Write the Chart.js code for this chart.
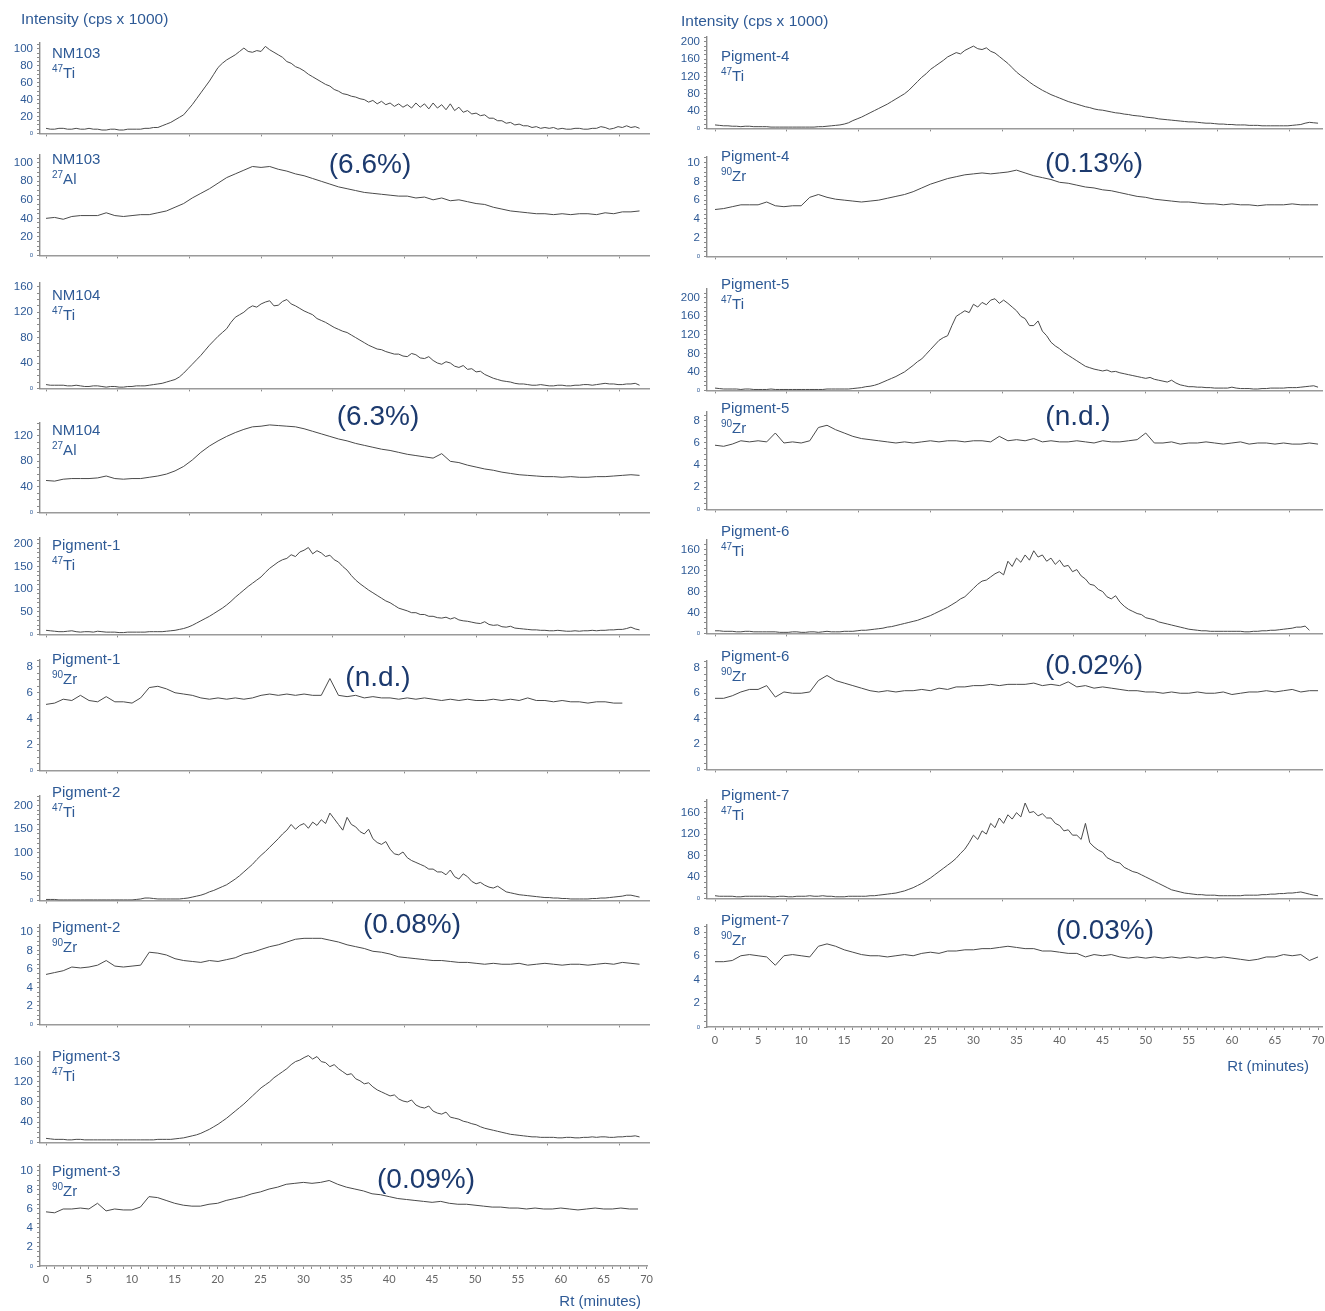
<!DOCTYPE html>
<html>
<head>
<meta charset="utf-8">
<title>Single-particle ICP-MS fractograms</title>
<script src="https://cdn.jsdelivr.net/npm/chart.js@4/dist/chart.umd.min.js"></script>
<style>
  html, body { margin: 0; padding: 0; background: #ffffff; overflow: hidden; }
  #stage { position: relative; width: 1325px; height: 1311px; }
  #stage canvas { position: absolute; }
</style>
</head>
<body>
<div id="stage"></div>
<script>
// ---- Retention time grids (minutes) ----
const TIME = [0,1,2,3,4,5,6,7,8,9,10,11,12,13,14,15,16,17,18,19,20,21,22,23,24,25,26,27,28,29,30,31,32,33,34,35,36,37,38,39,40,41,42,43,44,45,46,47,48,49,50,51,52,53,54,55,56,57,58,59,60,61,62,63,64,65,66,67,68,69,70];
const TIME_HALF = [0,0.5,1,1.5,2,2.5,3,3.5,4,4.5,5,5.5,6,6.5,7,7.5,8,8.5,9,9.5,
  10,10.5,11,11.5,12,12.5,13,13.5,14,14.5,15,15.5,16,16.5,17,17.5,18,18.5,19,19.5,
  20,20.5,21,21.5,22,22.5,23,23.5,24,24.5,25,25.5,26,26.5,27,27.5,28,28.5,29,29.5,
  30,30.5,31,31.5,32,32.5,33,33.5,34,34.5,35,35.5,36,36.5,37,37.5,38,38.5,39,39.5,
  40,40.5,41,41.5,42,42.5,43,43.5,44,44.5,45,45.5,46,46.5,47,47.5,48,48.5,49,49.5,
  50,50.5,51,51.5,52,52.5,53,53.5,54,54.5,55,55.5,56,56.5,57,57.5,58,58.5,59,59.5,
  60,60.5,61,61.5,62,62.5,63,63.5,64,64.5,65,65.5,66,66.5,67,67.5,68,68.5,69,69.5,70];

// ---- 47Ti intensities (cps x 1000), every half minute ----
const NM103_TI = [6,5,5,6,6,5,5,6,5,5, 6,5,5,4,4,5,5,4,4,5,
  5,5,5,6,6,7,7,9,11,13, 16,19,22,28,34,41,48,55,62,70,
  78,83,87,90,93,97,101,97,96,98, 97,103,99,96,93,90,85,83,79,77,
  74,70,67,64,61,58,56,52,50,47, 46,44,43,41,40,37,39,35,38,34,
  36,32,35,31,34,30,36,31,35,29, 36,30,34,28,35,27,31,25,27,23,
  24,21,22,18,18,15,15,12,13,10, 11,9,9,7,8,6,7,6,7,5,
  6,5,5,6,6,5,5,6,6,8, 7,5,6,8,7,9,7,8,6];
const NM104_TI = [6,5,5,5,5,4,4,5,4,3, 3,4,4,3,2,3,3,2,2,3,
  3,4,4,4,5,6,7,8,10,12, 14,18,24,31,38,45,52,60,68,75,
  82,88,94,104,112,116,120,126,130,128, 133,136,138,130,131,137,140,133,130,126,
  122,119,116,110,107,104,100,96,93,90, 88,84,80,76,72,68,65,62,61,58,
  56,54,54,51,50,55,53,48,47,50, 44,40,38,42,40,35,33,36,30,31,
  26,27,22,19,16,14,12,11,10,8, 7,7,6,5,5,6,5,4,4,5,
  5,4,4,5,5,6,6,5,6,7, 8,7,7,6,6,7,7,8,5];
const P1_TI = [9,8,7,6,6,7,8,6,5,6, 6,5,7,6,5,5,5,4,4,5,
  5,5,5,5,6,6,6,6,7,8, 9,11,13,16,20,25,30,35,40,46,
  52,58,65,73,82,90,98,106,113,120, 127,137,146,153,160,165,168,176,172,182,
  186,192,178,185,180,172,175,165,160,150, 142,130,120,112,105,98,92,86,80,74,
  70,64,58,55,52,48,48,44,44,40, 40,37,36,38,34,37,32,30,29,27,
  25,24,28,22,20,21,17,16,18,14, 13,12,11,10,10,9,9,8,8,9,
  8,7,7,8,7,8,8,9,8,9, 9,10,10,11,11,13,16,12,10];
const P2_TI = [2,2,2,1,1,1,1,1,1,1, 1,1,1,1,1,1,1,1,1,1,
  1,2,3,5,5,4,3,3,3,3, 3,3,4,5,7,9,11,14,18,21,
  25,29,33,39,45,52,60,68,76,86, 95,103,112,121,130,140,148,160,150,158,
  162,152,165,158,170,162,184,172,160,148, 175,160,155,145,140,150,130,122,118,124,
  108,98,96,102,90,84,80,76,72,66, 66,60,60,54,64,50,45,56,50,40,
  35,38,32,28,26,30,24,18,16,14, 12,11,10,9,8,7,6,6,5,5,
  4,4,3,3,3,3,3,4,4,5, 5,6,7,8,9,11,11,9,7];
const P3_TI = [8,7,6,6,6,5,5,6,6,5, 5,5,5,5,5,5,5,5,5,5,
  5,5,5,5,5,5,6,6,6,6, 7,8,9,11,13,15,18,22,26,31,
  36,42,48,55,62,69,76,84,92,100, 108,114,120,128,134,140,146,154,160,163,
  168,172,165,170,160,158,150,154,146,140, 134,136,126,122,116,118,110,104,100,96,
  92,94,86,82,80,84,74,70,68,72, 62,58,56,60,50,48,46,42,40,37,
  35,31,28,26,24,22,20,18,16,15, 14,13,12,11,11,10,10,10,10,9,
  9,10,10,9,9,10,10,11,10,11, 11,10,10,11,11,12,12,13,11];
const P4_TI = [8,7,6,6,5,5,4,5,5,4, 4,4,4,3,3,3,3,3,3,3,
  3,3,3,3,4,4,5,6,7,8, 10,13,18,22,26,31,36,41,46,51,
  56,62,68,74,80,88,98,108,118,126, 136,143,150,157,165,170,175,172,180,185,
  190,184,182,186,178,174,166,158,150,140, 130,122,115,107,100,94,88,83,78,74,
  70,66,62,59,56,53,50,48,45,43, 42,40,38,36,35,33,32,30,29,28,
  26,25,24,22,21,20,19,18,17,16, 15,15,14,13,12,12,11,10,10,9,
  9,8,8,8,7,7,7,6,6,6, 6,6,6,6,7,8,9,12,14,13, 12];
const P5_TI = [5,4,3,3,3,3,2,3,3,2, 2,2,2,3,2,2,2,2,2,2,
  2,2,2,2,2,2,3,3,3,3, 3,3,4,5,6,8,9,11,14,18,
  22,26,30,35,40,47,54,62,68,78, 88,98,108,114,118,140,160,166,172,168,
  186,180,190,185,195,198,188,195,188,180, 172,160,155,140,140,150,128,118,104,96,
  90,82,76,70,64,58,52,49,46,44, 42,44,40,41,38,36,34,32,30,28,
  26,28,24,22,20,18,22,16,12,10, 8,8,7,7,6,6,5,5,5,5,
  7,5,4,4,4,3,3,4,4,5, 5,5,5,6,6,6,7,8,9,10, 7];
const P6_TI = [5,5,4,4,4,3,3,4,4,3, 3,3,3,3,3,2,2,2,3,3,
  2,2,3,3,2,3,4,3,3,3, 4,4,4,5,6,6,7,8,9,10,
  12,13,15,17,19,21,23,25,28,31, 34,38,42,46,50,55,60,66,70,78,
  86,94,100,102,108,114,118,112,138,128, 144,136,150,140,158,146,150,138,144,132,
  140,128,130,118,122,110,104,94,92,84, 80,70,66,72,60,52,46,42,38,36,
  30,28,26,22,20,18,16,14,12,10, 8,7,6,5,5,4,4,4,4,4,
  4,4,4,3,3,4,4,5,5,6, 6,7,8,9,10,12,12,14,6];
const P7_TI = [5,4,4,4,4,3,3,4,4,4, 4,4,4,3,3,4,4,3,3,4,
  4,4,5,4,4,5,4,4,3,3, 3,4,4,4,4,4,5,5,6,7,
  8,9,10,12,14,17,20,24,28,33, 38,44,50,56,62,68,75,84,92,104,
  118,110,126,120,140,132,150,140,156,148, 160,152,178,160,162,154,158,150,150,140,
  136,126,128,118,118,110,140,104,96,90, 86,76,72,68,66,58,54,50,48,44,
  40,36,32,28,24,20,16,14,12,10, 9,8,7,7,6,6,6,5,5,5,
  5,5,5,6,6,6,6,7,7,8, 8,9,9,10,10,11,12,10,8,6, 5];

// ---- 27Al and 90Zr intensities (cps x 1000), every minute ----
const NM103_AL = [40,41,39,42,43,43,43,46,43,42, 43,44,44,46,48,52,56,62,67,72, 78,84,88,92,96,95,96,93,91,88, 86,83,80,77,74,72,70,68,67,66, 65,64,64,62,63,60,62,59,60,58, 56,55,52,50,48,47,46,45,45,44, 45,44,45,45,44,46,45,47,47,48];
const NM104_AL = [50,49,52,53,53,53,54,57,53,52, 53,53,55,57,60,65,72,82,94,104, 112,119,125,130,134,135,137,136,135,134, 131,127,123,119,115,112,108,105,102,99, 97,94,91,89,87,85,92,80,78,74, 71,68,66,63,61,59,58,57,56,56, 55,56,55,55,56,56,57,58,59,58];
const P1_ZR = [5.1,5.2,5.5,5.4,5.8,5.4,5.3,5.7,5.3,5.3, 5.2,5.6,6.4,6.5,6.3,6.0,5.9,5.8,5.6,5.5, 5.6,5.5,5.6,5.5,5.6,5.8,5.9,5.8,5.9,5.8, 5.9,5.8,5.8,7.1,5.8,5.7,5.8,5.6,5.7,5.6, 5.6,5.5,5.6,5.5,5.6,5.5,5.4,5.5,5.4,5.5, 5.4,5.4,5.5,5.4,5.5,5.4,5.6,5.4,5.4,5.3, 5.4,5.3,5.3,5.2,5.3,5.3,5.2,5.2];
const P2_ZR = [5.4,5.6,5.8,6.2,6.1,6.2,6.4,6.9,6.3,6.2, 6.3,6.4,7.8,7.7,7.5,7.1,6.9,6.8,6.7,6.9, 6.8,7.0,7.2,7.6,7.8,8.1,8.4,8.6,8.9,9.2, 9.3,9.3,9.3,9.1,8.9,8.6,8.4,8.2,7.9,7.8, 7.6,7.3,7.2,7.1,7.0,6.9,6.9,6.8,6.7,6.7, 6.6,6.5,6.6,6.5,6.5,6.6,6.4,6.5,6.6,6.5, 6.4,6.5,6.5,6.4,6.5,6.6,6.5,6.7,6.6,6.5];
const P3_ZR = [5.7,5.6,6.0,6.0,6.1,6.0,6.6,5.8,6.0,5.9, 5.9,6.2,7.3,7.2,6.9,6.6,6.4,6.3,6.3,6.5, 6.6,6.9,7.1,7.3,7.6,7.8,8.1,8.3,8.6,8.7, 8.8,8.7,8.8,9.0,8.6,8.3,8.1,7.9,7.6,7.5, 7.3,7.1,7.0,6.9,6.8,6.7,6.8,6.6,6.5,6.5, 6.4,6.3,6.2,6.2,6.1,6.1,6.0,6.1,6.0,6.0, 6.1,6.0,5.9,6.0,6.1,6.0,6.0,6.1,6.0,6.0];
const P4_ZR = [5.0,5.1,5.3,5.5,5.5,5.5,5.8,5.4,5.3,5.4, 5.4,6.3,6.6,6.3,6.1,6.0,5.9,5.8,5.9,6.0, 6.2,6.4,6.6,6.9,7.3,7.7,8.0,8.3,8.5,8.7, 8.8,8.9,8.8,8.9,9.0,9.2,8.9,8.6,8.4,8.2, 7.9,7.8,7.6,7.4,7.3,7.1,7.0,6.8,6.6,6.4, 6.3,6.1,6.0,5.9,5.8,5.8,5.7,5.6,5.6,5.5, 5.6,5.5,5.5,5.4,5.5,5.5,5.5,5.6,5.5,5.5,5.5];
const P5_ZR = [5.8,5.7,5.9,6.2,6.1,6.2,6.1,6.9,6.0,6.1, 6.0,6.2,7.4,7.6,7.2,6.9,6.6,6.4,6.3,6.2, 6.1,6.0,6.1,6.0,6.1,6.2,6.1,6.2,6.2,6.1, 6.2,6.2,6.1,6.6,6.2,6.3,6.2,6.4,6.1,6.2, 6.1,6.1,6.2,6.1,6.0,6.2,6.1,6.1,6.2,6.3, 6.9,6.0,6.0,6.1,5.9,6.0,6.0,6.1,6.0,5.9, 6.0,6.1,5.9,6.0,6.0,5.9,6.0,5.9,5.9,6.0,5.9];
const P6_ZR = [5.6,5.6,5.8,6.1,6.3,6.3,6.6,5.7,6.1,6.0, 6.0,6.1,7.0,7.4,7.0,6.8,6.6,6.4,6.2,6.1, 6.2,6.1,6.2,6.2,6.3,6.2,6.4,6.3,6.5,6.5, 6.6,6.6,6.7,6.6,6.7,6.7,6.7,6.8,6.6,6.7, 6.6,6.9,6.5,6.6,6.4,6.5,6.4,6.3,6.2,6.2, 6.1,6.1,6.0,6.1,6.0,6.0,6.1,6.0,6.0,6.1, 5.9,6.0,6.1,6.1,6.2,6.1,6.2,6.3,6.1,6.2,6.2];
const P7_ZR = [5.5,5.5,5.6,6.0,6.1,6.0,5.9,5.2,6.0,6.1, 6.0,5.9,6.8,7.0,6.8,6.5,6.3,6.1,6.0,6.0, 5.9,6.0,6.1,6.0,6.2,6.3,6.2,6.4,6.4,6.5, 6.5,6.6,6.6,6.7,6.8,6.7,6.6,6.6,6.4,6.4, 6.3,6.2,6.2,5.9,6.1,6.0,6.1,5.9,5.8,5.9, 5.8,5.9,5.8,5.9,5.8,5.9,5.8,5.9,5.8,5.9, 5.8,5.7,5.6,5.7,5.9,5.9,6.1,6.0,6.1,5.6,5.9];

// ---- Panel contents, top to bottom: left column then right column ----
const SERIES   = [NM103_TI, NM103_AL, NM104_TI, NM104_AL, P1_TI, P1_ZR, P2_TI, P2_ZR, P3_TI, P3_ZR,
                  P4_TI, P4_ZR, P5_TI, P5_ZR, P6_TI, P6_ZR, P7_TI, P7_ZR];
const GRIDS    = [TIME_HALF, TIME, TIME_HALF, TIME, TIME_HALF, TIME, TIME_HALF, TIME, TIME_HALF, TIME,
                  TIME_HALF, TIME, TIME_HALF, TIME, TIME_HALF, TIME, TIME_HALF, TIME];
const SAMPLES  = ['NM103','NM103','NM104','NM104','Pigment-1','Pigment-1','Pigment-2','Pigment-2','Pigment-3','Pigment-3',
                  'Pigment-4','Pigment-4','Pigment-5','Pigment-5','Pigment-6','Pigment-6','Pigment-7','Pigment-7'];
const MASSES   = ['47','27','47','27','47','90','47','90','47','90','47','90','47','90','47','90','47','90'];
const ELEMENTS = ['Ti','Al','Ti','Al','Ti','Zr','Ti','Zr','Ti','Zr','Ti','Zr','Ti','Zr','Ti','Zr','Ti','Zr'];
const CONTENT  = [null,'(6.6%)',null,'(6.3%)',null,'(n.d.)',null,'(0.08%)',null,'(0.09%)',
                  null,'(0.13%)',null,'(n.d.)',null,'(0.02%)',null,'(0.03%)'];
const Y_LABELS = [[20,40,60,80,100],[20,40,60,80,100],[40,80,120,160],[40,80,120],[50,100,150,200],[2,4,6,8],
                  [50,100,150,200],[2,4,6,8,10],[40,80,120,160],[2,4,6,8,10],
                  [40,80,120,160,200],[2,4,6,8,10],[40,80,120,160,200],[2,4,6,8],[40,80,120,160],[2,4,6,8],
                  [40,80,120,160],[2,4,6,8]];
const X_LABEL_STEP = 5;
const Y_TITLE = 'Intensity (cps x 1000)';
const X_TITLE = 'Rt (minutes)';

// ---- Page geometry ----
const COLS = [
  { left: 0,   width: 657, axisW: 40, xmin: -0.7,  xmax: 70.1,  nameX: 52,  titleX: 21,  titleY: 20, rtX: 641,  rtY: 1302 },
  { left: 667, width: 663, axisW: 40, xmin: -0.93, xmax: 70.46, nameX: 721, titleX: 681, titleY: 22, rtX: 1309, rtY: 1067 }
];
const LAYOUT = [
  { col: 0, top: 43,   bottom: 136,  ymax: 107,   minor: 5,   nameY: 54 },
  { col: 0, top: 155,  bottom: 258,  ymax: 108.4, minor: 5,   nameY: 160,  pctX: 370,  pctY: 165 },
  { col: 0, top: 283,  bottom: 391,  ymax: 166,   minor: 10,  nameY: 296 },
  { col: 0, top: 423,  bottom: 515,  ymax: 140,   minor: 10,  nameY: 431,  pctX: 378,  pctY: 417 },
  { col: 0, top: 538,  bottom: 637,  ymax: 213,   minor: 10,  nameY: 546 },
  { col: 0, top: 660,  bottom: 773,  ymax: 8.53,  minor: 0.5, nameY: 660,  pctX: 378,  pctY: 678 },
  { col: 0, top: 796,  bottom: 903,  ymax: 220,   minor: 10,  nameY: 793 },
  { col: 0, top: 925,  bottom: 1027, ymax: 10.74, minor: 0.5, nameY: 928,  pctX: 412,  pctY: 925 },
  { col: 0, top: 1052, bottom: 1145, ymax: 179,   minor: 10,  nameY: 1057 },
  { col: 0, top: 1165, bottom: 1266, ymax: 10.63, minor: 0.5, nameY: 1172, pctX: 426,  pctY: 1180 },
  { col: 1, top: 37,   bottom: 131,  ymax: 211,   minor: 10,  nameY: 57 },
  { col: 1, top: 157,  bottom: 259,  ymax: 10.6,  minor: 0.5, nameY: 157,  pctX: 1094, pctY: 164 },
  { col: 1, top: 289,  bottom: 393,  ymax: 219,   minor: 10,  nameY: 285 },
  { col: 1, top: 412,  bottom: 512,  ymax: 8.8,   minor: 0.5, nameY: 409,  pctX: 1078, pctY: 417 },
  { col: 1, top: 540,  bottom: 636,  ymax: 178.6, minor: 10,  nameY: 532 },
  { col: 1, top: 661,  bottom: 772,  ymax: 8.54,  minor: 0.5, nameY: 657,  pctX: 1094, pctY: 666 },
  { col: 1, top: 800,  bottom: 901,  ymax: 183.6, minor: 10,  nameY: 796 },
  { col: 1, top: 925,  bottom: 1027, ymax: 8.59,  minor: 0.5, nameY: 921,  pctX: 1105, pctY: 931 }
];

const FONT = "'Liberation Sans', Arial, Helvetica, sans-serif";
const BLUE = '#2e5a96';
const NAVY = '#1c3a6e';
const TRACE = '#4a4a4a';
const AXIS = '#9a9a9a';

// Draws the sample name, isotope, content note and the axis titles onto a panel.
const panelText = {
  id: 'panelText',
  afterDraw(chart, args, opts) {
    const ctx = chart.ctx;
    ctx.save();
    ctx.textBaseline = 'middle';
    for (const it of opts.items) {
      const x = it.x - opts.ox, y = it.y - opts.oy;
      ctx.fillStyle = it.color;
      ctx.textAlign = it.align || 'left';
      if (it.sup) {
        ctx.font = '10px ' + FONT;
        ctx.fillText(it.sup, x, y - 4);
        const w = ctx.measureText(it.sup).width;
        ctx.font = it.font;
        ctx.fillText(it.text, x + w, y + 1);
      } else {
        ctx.font = it.font;
        ctx.fillText(it.text, x, y);
      }
    }
    ctx.restore();
  }
};

const stage = document.getElementById('stage');
const lastInCol = [9, 17];
const firstInCol = [0, 10];

LAYOUT.forEach((L, i) => {
  const C = COLS[L.col];
  const isFirst = firstInCol.includes(i);
  const isLast = lastInCol.includes(i);
  const labels = Y_LABELS[i];

  let cTop = Math.min(L.top - 12, L.nameY - 12, L.pctY ? L.pctY - 22 : Infinity);
  if (isFirst) cTop = 0;
  const xh = isLast ? 20 : 5;
  const padBottom = isLast ? 36 : 0;
  const height = L.bottom - cTop + xh + padBottom;

  const cv = document.createElement('canvas');
  cv.width = C.width; cv.height = height;
  cv.style.left = C.left + 'px'; cv.style.top = cTop + 'px';
  cv.style.width = C.width + 'px'; cv.style.height = height + 'px';
  stage.appendChild(cv);

  const grid = GRIDS[i];
  const points = SERIES[i].map((v, k) => ({ x: grid[k], y: v }));

  const items = [
    { text: SAMPLES[i], x: C.nameX, y: L.nameY, font: '15px ' + FONT, color: BLUE },
    { sup: MASSES[i], text: ELEMENTS[i], x: C.nameX, y: L.nameY + 19, font: '15px ' + FONT, color: BLUE }
  ];
  if (CONTENT[i]) items.push({ text: CONTENT[i], x: L.pctX, y: L.pctY, font: '28px ' + FONT, color: NAVY, align: 'center' });
  if (isFirst) items.push({ text: Y_TITLE, x: C.titleX, y: C.titleY, font: '15.5px ' + FONT, color: BLUE });
  if (isLast) items.push({ text: X_TITLE, x: C.rtX, y: C.rtY, font: '15px ' + FONT, color: BLUE, align: 'right' });

  const nY = Math.floor(L.ymax / L.minor + 1e-9);
  const yTicks = [];
  for (let k = 0; k <= nY; k++) yTicks.push(Math.round(k * L.minor * 1000) / 1000);
  const isLabel = v => labels.some(l => Math.abs(l - v) < 1e-6);

  const xTicks = [];
  if (isLast) { for (let k = 0; k <= 70; k++) xTicks.push(k); }
  else { for (let k = 0; k <= 8; k++) xTicks.push(k * 500 / 60); }   // 500 s marks

  new Chart(cv, {
    type: 'line',
    data: { datasets: [{ data: points, borderColor: TRACE, borderWidth: 1, pointRadius: 0, tension: 0, fill: false }] },
    plugins: [panelText],
    options: {
      responsive: false,
      animation: false,
      devicePixelRatio: 1,
      layout: { padding: { top: L.top - cTop, left: 0, right: 8, bottom: padBottom } },
      plugins: {
        legend: { display: false },
        tooltip: { enabled: false },
        panelText: { items, ox: C.left, oy: cTop }
      },
      scales: {
        x: {
          type: 'linear', min: C.xmin, max: C.xmax,
          afterFit(s) { s.height = xh; },
          afterBuildTicks(s) { s.ticks = xTicks.map(v => ({ value: v })); },
          border: { color: AXIS, width: 1.6 },
          grid: { drawOnChartArea: false, drawTicks: true, tickLength: 3, color: '#8a8a8a' },
          ticks: {
            display: isLast, autoSkip: false, maxRotation: 0, padding: 4,
            color: '#666666', font: { family: "Lato, 'Open Sans', sans-serif", size: 11 },
            callback: v => (Math.abs(v % X_LABEL_STEP) < 1e-6 ? String(Math.round(v)) : '')
          }
        },
        y: {
          type: 'linear', min: 0, max: L.ymax,
          afterFit(s) { s.width = C.axisW; },
          afterBuildTicks(s) { s.ticks = yTicks.map(v => ({ value: v })); },
          border: { color: '#8a8a8a', width: 1.4 },
          grid: { drawOnChartArea: false, drawTicks: true, tickLength: 3, color: '#8a8a8a' },
          ticks: {
            autoSkip: false, padding: 4, color: BLUE,
            font: ctx => ({ family: FONT, size: (ctx.tick && ctx.tick.value === 0) ? 6 : 11.5 }),
            callback: v => (isLabel(v) ? String(v) : (v === 0 ? '0' : ''))
          }
        }
      }
    }
  });
});
</script>
</body>
</html>
